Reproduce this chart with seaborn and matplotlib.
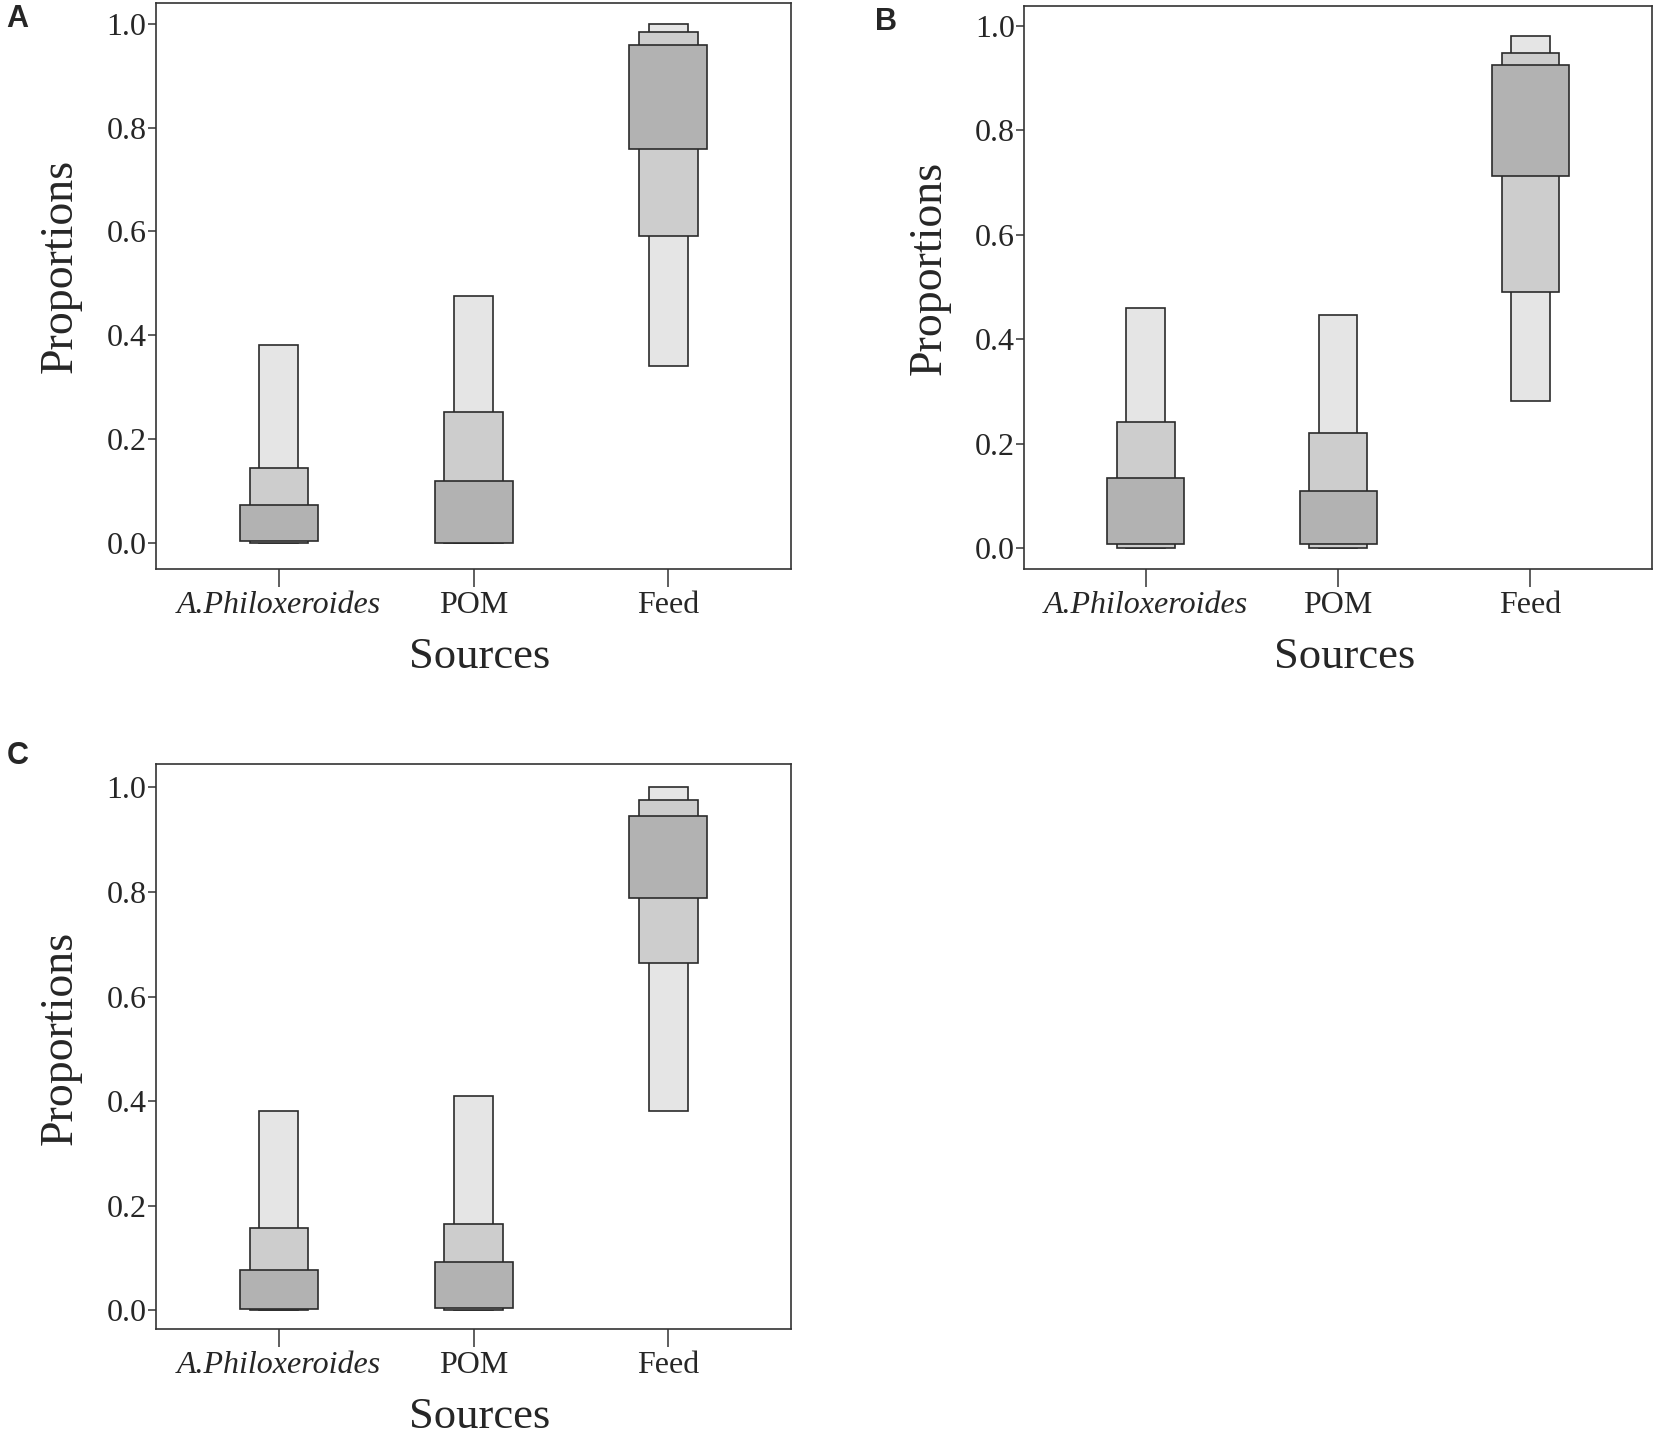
import matplotlib
matplotlib.use("Agg")
import matplotlib.pyplot as plt
import seaborn as sns
import pandas as pd

# sources on the x axis
sources = ["A.Philoxeroides", "POM", "Feed"]

# credible intervals: (low, high) per source
# panel A
a_95_low = [0.000, 0.000, 0.341]
a_95_high = [0.381, 0.476, 1.000]
a_75_low = [0.000, 0.000, 0.591]
a_75_high = [0.145, 0.253, 0.983]
a_50_low = [0.004, 0.000, 0.759]
a_50_high = [0.073, 0.119, 0.959]
# panel B
b_95_low = [0.000, 0.000, 0.281]
b_95_high = [0.459, 0.446, 0.981]
b_75_low = [0.000, 0.000, 0.490]
b_75_high = [0.241, 0.221, 0.948]
b_50_low = [0.007, 0.007, 0.712]
b_50_high = [0.135, 0.110, 0.924]
# panel C
c_95_low = [0.000, 0.000, 0.382]
c_95_high = [0.382, 0.410, 1.000]
c_75_low = [0.000, 0.000, 0.665]
c_75_high = [0.158, 0.166, 0.976]
c_50_low = [0.002, 0.005, 0.789]
c_50_high = [0.077, 0.093, 0.945]

sns.set_style("ticks")
plt.rcParams["font.family"] = ["Liberation Serif", "DejaVu Serif"]

fig = plt.figure(figsize=(16.55, 14.37), dpi=100)

panels = [
    ("A", [0.0944, 0.604, 0.3836, 0.394], (-0.05, 1.04),
     [(a_95_low, a_95_high), (a_75_low, a_75_high), (a_50_low, a_50_high)],
     (0.004, 0.987), (-0.118, 0.535)),
    ("B", [0.619, 0.604, 0.379, 0.392], (-0.04, 1.038),
     [(b_95_low, b_95_high), (b_75_low, b_75_high), (b_50_low, b_50_high)],
     (0.529, 0.985), (-0.117, 0.535)),
    ("C", [0.0944, 0.075, 0.3836, 0.393], (-0.036, 1.044),
     [(c_95_low, c_95_high), (c_75_low, c_75_high), (c_50_low, c_50_high)],
     (0.004, 0.474), (-0.118, 0.516)),
]

# widest / darkest interval drawn last so it sits on top
widths = [0.2, 0.3, 0.4]
fills = ["#e5e5e5", "#cdcdcd", "#b2b2b2"]

for letter, rect, ylim, intervals, letter_pos, ylab_pos in panels:
    ax = fig.add_axes(rect)
    for (low, high), w, col in zip(intervals, widths, fills):
        df = pd.DataFrame({"source": sources,
                           "height": [h - l for l, h in zip(low, high)]})
        sns.barplot(data=df, x="source", y="height", order=sources,
                    width=w, color=col, saturation=1, errorbar=None,
                    bottom=low, edgecolor="#2b2b2b", linewidth=1.2, ax=ax)
    ax.set_xlim(-0.63, 2.63)
    ax.set_ylim(*ylim)
    ax.set_yticks([0.0, 0.2, 0.4, 0.6, 0.8, 1.0])
    ax.set_yticklabels(["0.0", "0.2", "0.4", "0.6", "0.8", "1.0"])
    ax.tick_params(axis="y", labelsize=23, length=6, width=1.1, pad=1, color="#333333")
    ax.tick_params(axis="x", labelsize=23, length=13, width=1.1, pad=3, color="#333333")
    ax.get_xticklabels()[0].set_fontstyle("italic")
    for sp in ax.spines.values():
        sp.set_visible(True)
        sp.set_linewidth(1.2)
        sp.set_color("#333333")
    ax.set_ylabel("Proportions", fontsize=33)
    ax.set_xlabel("Sources", fontsize=32)
    ax.yaxis.set_label_coords(*ylab_pos)
    ax.xaxis.set_label_coords(0.51, -0.12)
    fig.text(letter_pos[0], letter_pos[1], letter, fontsize=22, fontweight="bold",
             family=["Liberation Sans", "DejaVu Sans"], va="center", ha="left")

fig.savefig("out.png", dpi=100)
